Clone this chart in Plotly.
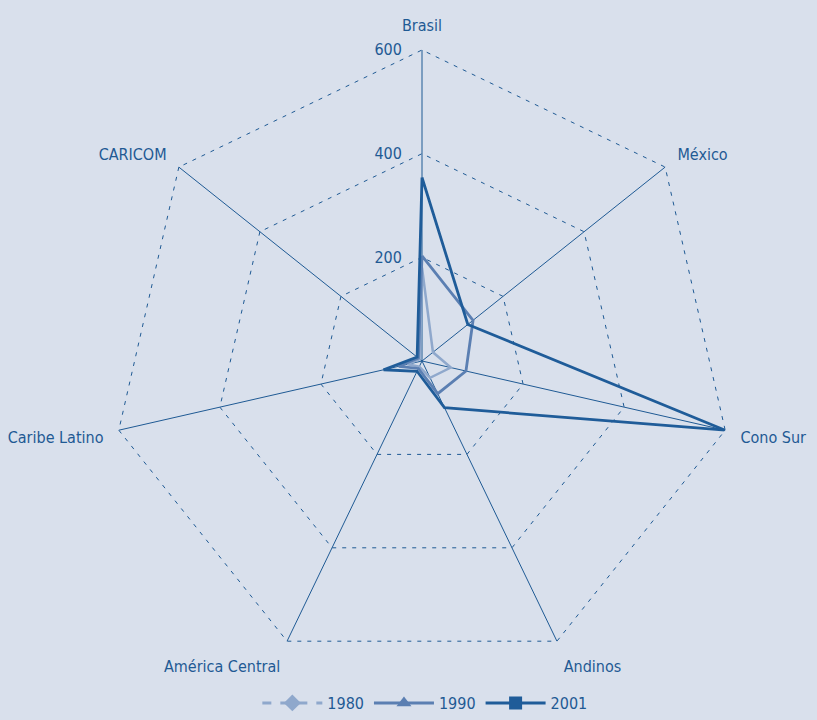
import plotly.graph_objects as go

categories = ["Brasil", "México", "Cono Sur", "Andinos", "América Central", "Caribe Latino", "CARICOM"]
v1980 = [180, 27, 57, 36, 12, 29, 6]
v1990 = [203, 126, 87, 70, 16, 46, 9]
v2001 = [354, 113, 600, 100, 22, 76, 12]
years = ["1980", "1990", "2001"]
tick_vals = [200, 400, 600]
r_max = 600

BG = "#d9e0ec"
TXT = "#1f5a94"
colors = {"1980": "#8fa8cc", "1990": "#5b7fb2", "2001": "#1f5c99"}
widths = {"1980": 2.5, "1990": 2.8, "2001": 2.8}
symbols = {"1980": "diamond", "1990": "triangle-up", "2001": "square"}
dashes = {"1980": "dash", "1990": "solid", "2001": "solid"}
FONT = "DejaVu Sans Condensed"

fig = go.Figure()
series = {"1980": v1980, "1990": v1990, "2001": v2001}
for y in years:
    vals = series[y]
    fig.add_trace(go.Scatterpolar(
        r=vals + [vals[0]], theta=categories + [categories[0]],
        mode="lines", line=dict(color=colors[y], width=widths[y]),
        showlegend=False, name=y))
# legend entries
for y in years:
    fig.add_trace(go.Scatterpolar(
        r=[None], theta=[categories[0]], mode="lines+markers", name=y,
        line=dict(color=colors[y], width=3, dash=dashes[y]),
        marker=dict(symbol=symbols[y], size=13, color=colors[y])))
# helper subplot used only to draw the outer (600) dotted grid ring
fig.add_trace(go.Scatterpolar(r=[None], theta=[categories[0]], subplot="polar2",
                              showlegend=False, hoverinfo="skip"))

cx, cy, R = 422, 361, 311
W, H = 817, 720
k = 1.1
R2 = R * k
grid_dash = "4px,6px"
fig.update_layout(
    width=W, height=H,
    margin=dict(l=0, r=0, t=0, b=0),
    paper_bgcolor=BG, plot_bgcolor=BG,
    font=dict(family=FONT, size=15, color=TXT),
    polar=dict(
        bgcolor=BG,
        gridshape="linear",
        domain=dict(x=[(cx - R) / W, (cx + R) / W], y=[1 - (cy + R) / H, 1 - (cy - R) / H]),
        radialaxis=dict(range=[0, r_max], tickvals=tick_vals, showline=False,
                        gridcolor=TXT, griddash=grid_dash, gridwidth=1,
                        angle=90, tickangle=90, ticks="outside", ticklen=14,
                        tickcolor="rgba(0,0,0,0)", side="counterclockwise",
                        tickfont=dict(size=16, color=TXT, family=FONT)),
        angularaxis=dict(rotation=90, direction="clockwise", showline=False,
                         gridcolor=TXT, gridwidth=1, ticks="outside", ticklen=12,
                         tickcolor="rgba(0,0,0,0)",
                         tickfont=dict(size=16, color=TXT, family=FONT)),
    ),
    polar2=dict(
        bgcolor="rgba(0,0,0,0)",
        gridshape="linear",
        domain=dict(x=[(cx - R2) / W, (cx + R2) / W], y=[1 - (cy + R2) / H, 1 - (cy - R2) / H]),
        radialaxis=dict(range=[0, r_max * k], tickvals=[r_max], showline=False,
                        showticklabels=False, ticks="",
                        gridcolor=TXT, griddash=grid_dash, gridwidth=1, angle=90),
        angularaxis=dict(rotation=90, direction="clockwise", showline=False,
                         showgrid=False, showticklabels=False, ticks="",
                         categoryarray=categories, type="category"),
    ),
    legend=dict(orientation="h", x=0.52, xanchor="center", y=0.0, yanchor="bottom",
                bgcolor="rgba(0,0,0,0)", font=dict(size=16, color=TXT, family=FONT),
                itemwidth=60),
)
fig.write_html("out.html", config={"displayModeBar": False},
               post_script="document.body.style.margin='0';")
